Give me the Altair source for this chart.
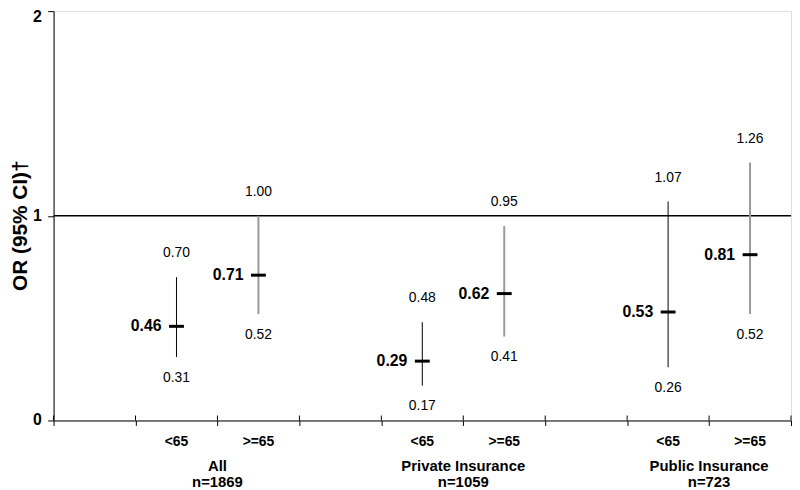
import altair as alt
import pandas as pd

# ---- data ----
groups = ["All", "All", "Private Insurance", "Private Insurance", "Public Insurance", "Public Insurance"]
ages = ["<65", ">=65", "<65", ">=65", "<65", ">=65"]
x_pos = [1.5, 2.5, 4.5, 5.5, 7.5, 8.5]
or_vals = [0.46, 0.71, 0.29, 0.62, 0.53, 0.81]
ci_low = [0.31, 0.52, 0.17, 0.41, 0.26, 0.52]
ci_high = [0.70, 1.00, 0.48, 0.95, 1.07, 1.26]

group_names = ["All", "Private Insurance", "Public Insurance"]
group_n = ["n=1869", "n=1059", "n=723"]
group_x = [2, 5, 8]

boundaries = list(range(10))
y_ticks = [0, 1, 2]
reference = [1.0]

W, H = 744, 413
FONT = "Liberation Sans"

df = pd.DataFrame({"group": groups, "age": ages, "x": x_pos,
                   "or": or_vals, "lo": ci_low, "hi": ci_high})
gdf = pd.DataFrame({"name": group_names, "n": group_n, "x": group_x})
bdf = pd.DataFrame({"x": boundaries})
rdf = pd.DataFrame({"v": reference})
ydf = pd.DataFrame({"v": y_ticks, "label": [str(v) for v in y_ticks]})

x_axis = alt.Axis(values=boundaries, labels=False, ticks=True, tickSize=5,
                  tickColor="black", domainColor="black", grid=False, title=None)
y_axis = alt.Axis(values=y_ticks, labels=False, grid=False, tickSize=6,
                  tickColor="black", domainColor="black",
                  title="OR (95% CI)\u2020", titleFont=FONT, titleFontSize=21,
                  titleFontWeight="bold", titleColor="black", titleAngle=-90,
                  titleX=-27, titleY=216, titleAlign="center", titleBaseline="alphabetic")

xs = alt.Scale(domain=[0, 9], nice=False, zero=False)
ys = alt.Scale(domain=[0, 2], nice=False, zero=False)


def X(f="x"):
    return alt.X(f"{f}:Q", scale=xs, axis=x_axis)


def Y(f):
    return alt.Y(f"{f}:Q", scale=ys, axis=y_axis)


ref_rule = alt.Chart(rdf).mark_rule(color="black", strokeWidth=1.5).encode(y=Y("v"))

y_lbl_base = alt.Chart(ydf).encode(x=alt.value(-12), y=Y("v"), text="label:N")
y_lbl_low = y_lbl_base.mark_text(align="right", baseline="middle", font=FONT, fontSize=16,
                                 fontWeight="bold", color="black").transform_filter(
    alt.datum.v < 2)
y_lbl_top = y_lbl_base.mark_text(align="right", baseline="middle", dy=6, font=FONT,
                                 fontSize=16, fontWeight="bold", color="black").transform_filter(
    alt.datum.v >= 2)

inner_ticks = alt.Chart(bdf).mark_rule(color="black", strokeWidth=1).encode(
    x=X(), y=alt.value(H - 5), y2=alt.value(H))

ci = alt.Chart(df).mark_rule().encode(
    x=X(), y=Y("lo"), y2="hi:Q",
    color=alt.condition(alt.datum.age == "<65", alt.value("black"), alt.value("#999999")),
    strokeWidth=alt.condition(alt.datum.age == "<65", alt.value(1), alt.value(2)),
)

dash = alt.Chart(df).mark_tick(orient="horizontal", size=15, thickness=3, color="black",
                               opacity=1).encode(x=X(), y=Y("or"))

or_lbl = alt.Chart(df).mark_text(align="right", baseline="middle", dx=-15, font=FONT,
                                 fontSize=16, fontWeight="bold", color="black").encode(
    x=X(), y=Y("or"), text=alt.Text("or:Q", format=".2f"))

hi_lbl = alt.Chart(df).mark_text(align="center", baseline="middle", dy=-24, font=FONT,
                                 fontSize=14, color="black").encode(
    x=X(), y=Y("hi"), text=alt.Text("hi:Q", format=".2f"))

lo_lbl = alt.Chart(df).mark_text(align="center", baseline="middle", dy=21, font=FONT,
                                 fontSize=14, color="black").encode(
    x=X(), y=Y("lo"), text=alt.Text("lo:Q", format=".2f"))

age_lbl = alt.Chart(df).mark_text(align="center", baseline="middle", font=FONT,
                                  fontSize=14, fontWeight="bold", color="black").encode(
    x=X(), y=alt.value(H + 22), text="age:N")

grp_lbl = alt.Chart(gdf).mark_text(align="center", baseline="middle", font=FONT,
                                   fontSize=15, fontWeight="bold", color="black").encode(
    x=X(), y=alt.value(H + 46), text="name:N")

n_lbl = alt.Chart(gdf).mark_text(align="center", baseline="middle", font=FONT,
                                 fontSize=15, fontWeight="bold", color="black").encode(
    x=X(), y=alt.value(H + 62), text="n:N")

chart = alt.layer(ref_rule, y_lbl_low, y_lbl_top, inner_ticks, ci, dash, or_lbl, hi_lbl,
                  lo_lbl, age_lbl, grp_lbl, n_lbl).properties(
    width=W, height=H,
    autosize=alt.AutoSizeParams(type="none"),
    padding={"left": 46, "top": 1, "right": 1, "bottom": 70},
    background="white",
).configure_view(stroke="black", strokeWidth=1).configure(font=FONT)

chart.save("out.html", embed_options={"renderer": "svg", "actions": False})
